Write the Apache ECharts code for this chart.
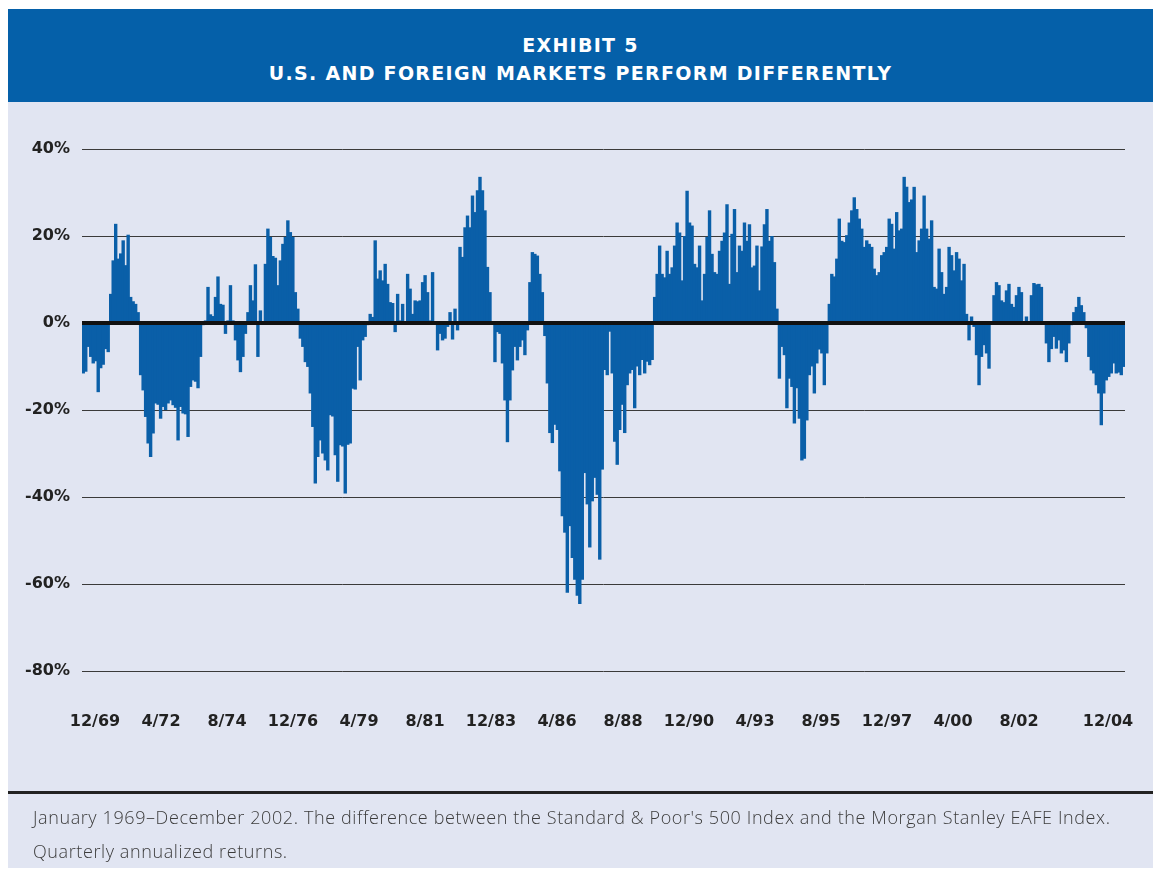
<!DOCTYPE html>
<html>
<head>
<meta charset="utf-8">
<script src="https://cdn.jsdelivr.net/npm/echarts@6/dist/echarts.min.js"></script>
<style>
  html, body { margin: 0; padding: 0; background: #ffffff; }
  body { width: 1153px; height: 871px; position: relative; overflow: hidden; }
  #panel { position: absolute; left: 8px; top: 9px; width: 1145px; height: 859px; background: #e1e5f2; }
  #header { position: absolute; left: 8px; top: 9px; width: 1145px; height: 93px; background: #0560a9; color: #ffffff;
            font-family: "DejaVu Sans", sans-serif; font-weight: bold; font-size: 19px; letter-spacing: 1.3px; text-align: center; }
  #header .l1 { position: absolute; left: 0; right: 0; top: 24px; line-height: 24px; }
  #header .l2 { position: absolute; left: 0; right: 0; top: 52px; line-height: 24px; }
  #chart { position: absolute; left: 0; top: 0; width: 1153px; height: 871px; }
  #sep { position: absolute; left: 8px; top: 791px; width: 1145px; height: 3px; background: #222222; }
  #caption { position: absolute; left: 33px; top: 800px; color: #3c3c3c; font-family: "Open Sans", sans-serif; font-weight: 300;
             font-size: 18px; letter-spacing: 0.6px; line-height: 34px; white-space: nowrap; }
</style>
</head>
<body>
<div id="panel"></div>
<div id="header"><div class="l1">EXHIBIT 5</div><div class="l2">U.S. AND FOREIGN MARKETS PERFORM DIFFERENTLY</div></div>
<div id="chart"></div>
<div id="sep"></div>
<div id="caption">January 1969–December 2002. The difference between the Standard &amp; Poor's 500 Index and the Morgan Stanley EAFE Index.<br>Quarterly annualized returns.</div>
<script>
// S&P 500 minus MSCI EAFE, quarterly annualized return difference (%), monthly bars
var diff1970s = [-11.6, -11.2, -5.5, -7.8, -9.3, -8.8, -15.9, -10.4, -9.6, -6.0, -6.7,
  6.7, 14.4, 22.8, 14.8, 16.0, 19.0, 13.3, 20.3, 6.0, 5.0, 4.4, 2.5,
  -12.0, -15.5, -21.6, -27.7, -30.8, -25.4, -18.5, -18.8, -22.0, -19.3, -20.0, -18.5, -17.8, -18.9, -19.5, -27.0, -19.3, -20.8, -21.0, -26.2, -14.7, -13.2, -13.5, -15.0, -7.8, -0.5,
  0.6, 8.3, 2.0, 1.6, 6.0, 10.7, 4.4, 4.2, -2.5, 0.6, 8.7, 0.6, -4.0, -8.6, -11.3, -7.8, -2.5, 2.5, 8.7, 5.2, 13.5, -7.8, 2.9, 0.3,
  13.6, 21.7, 19.8, 15.4, 15.0, 8.7, 14.4, 18.2, 19.8, 23.6, 20.9, 19.8, 7.1, 3.3,
  -3.6, -5.5, -9.0, -10.1, -16.2, -23.9, -36.9, -30.8, -27.0, -30.0, -31.6];
var diffLate70sEarly80s = [-33.9, -21.2, -21.5, -30.4, -36.5, -28.1, -28.4, -39.2, -28.0, -27.7, -15.1, -15.3, -5.5, -13.2, -4.0, -3.2, -0.5,
  2.1, 1.4, 19.0, 10.2, 12.1, 9.8, 13.6, 9.0, 4.8, 4.6, -2.1, 6.7, 0.6, 4.4, 0.2, 11.3, 7.9, 2.1, 5.2, 5.0, 5.2, 9.4, 11.0, 7.1, 0.6, 11.7, 0.2,
  -6.3, -2.5, -4.0, -3.6, -0.9, 2.5, -3.8, 3.3, -1.7,
  17.5, 15.2, 22.0, 24.7, 22.0, 29.3, 25.5, 30.5, 33.6, 30.5, 25.9, 12.9, 7.1, 0.3,
  -9.0, -2.1, -2.5, -9.3, -17.8, -27.4, -17.8, -10.9, -5.5, -8.6, -5.5, -4.0, -7.4, -1.7,
  9.4, 16.3, 15.9, 15.5];
var diffMid80s = [11.3, 7.1, -3.0, -13.9, -25.3, -27.6, -23.4, -24.6, -34.1, -44.4,
  -48.2, -62.0, -46.7, -54.0, -59.0, -62.7, -64.6, -59.0, -34.5, -41.7,
  -51.6, -41.0, -35.6, -39.5, -54.4, -33.7, -10.8, -12.0, -2.0, -11.6,
  -27.3, -32.6, -24.6, -18.8, -25.3, -14.3, -11.6, -10.8, -19.6, -10.0,
  -12.0, -8.5, -11.6, -8.9, -9.7, -8.5,
  6.0, 11.3, 17.8, 11.3, 10.5, 16.6, 11.3, 12.8, 17.8, 23.1,
  20.8, 9.8, 20.0, 30.4, 23.1, 22.4, 13.6, 12.8];
var diffEarly90s = [17.8, 5.2, 11.3, 19.8, 25.9, 15.9, 11.7, 11.3, 16.6, 18.9,
  20.8, 27.3, 9.0, 20.5, 26.2, 11.7, 17.8, 16.6, 23.1, 18.9,
  22.7, 12.8, 13.2, 17.8, 7.5, 17.6, 22.7, 26.2, 18.9, 20.0,
  14.0, 3.3,
  -12.8, -5.5, -7.4, -19.6, -12.8, -14.7, -23.1, -15.0, -22.0, -31.6,
  -31.2, -22.4, -12.0, -10.0, -16.2, -9.3, -6.1, -7.0, -14.3, -7.0,
  4.4, 11.3, 10.7, 14.8];
var diffLate90s2000s = [24.0, 18.9, 18.6, 20.2, 23.1, 25.9, 28.9, 26.2, 24.0, 21.7,
  17.5, 19.0, 18.2, 17.5, 12.5, 11.0, 11.7, 15.6, 16.3, 17.5,
  24.0, 22.8, 17.1, 25.5, 21.3, 21.7, 33.6, 31.3, 27.8, 28.4,
  31.3, 16.3, 19.0, 21.7, 29.3, 21.7, 19.4, 23.6, 8.3, 7.9,
  17.1, 11.7, 6.7, 8.3, 17.5, 15.6, 12.1, 16.3, 14.8, 9.8,
  13.6, 2.1, -4.0, 1.5, -0.9, -7.4, -14.3, -7.8, -5.1, -7.0,
  -10.5, 0.2, 6.4, 9.4, 8.7, 5.2, 4.8, 7.5, 9.0, 4.4,
  3.7, 6.4, 8.3, 7.1, 0.3, 1.5, -0.3, 6.4, 9.2, 8.9,
  9.0, 8.3, 0.3, -4.7, -9.0, -6.0, -3.2, -5.9, -4.0, -7.0,
  -6.3, -9.0, -4.7, -0.5, 2.5, 3.7, 6.0, 4.1, 2.5, -1.2,
  -7.8, -10.9, -11.6, -14.3, -16.2, -23.5, -16.2, -13.2, -12.4, -11.6,
  -9.3, -11.6, -11.4, -12.0, -10.1];
// the reference sets its first 15 date labels evenly and the last one (12/04) apart at the far right
var tickLabels = ['12/69', '4/72', '8/74', '12/76', '4/79', '8/81', '12/83', '4/86', '8/88', '12/90', '4/93', '8/95', '12/97', '4/00', '8/02'];
var lastTickLabel = ['12/04'];
var yMin = -80, yMax = 40, yStep = 20;

var values = [].concat(diff1970s, diffLate70sEarly80s, diffMid80s, diffEarly90s, diffLate90s2000s);
var categories = values.map(function (v, i) { return String(i); });

var chart = echarts.init(document.getElementById('chart'), null, { renderer: 'canvas' });
var axisFont = { fontFamily: 'DejaVu Sans', fontWeight: 'bold', fontSize: 16, color: '#222222' };
var hiddenAxis = { axisLine: { show: false }, axisTick: { show: false }, splitLine: { show: false } };
chart.setOption({
  backgroundColor: 'transparent',
  animation: false,
  grid: [
    { left: 82, right: 28, top: 149, bottom: 200 },
    { left: 95, right: 134, top: 149, bottom: 200 },
    { left: 1088, right: 25, top: 149, bottom: 200 }
  ],
  xAxis: [
    Object.assign({ type: 'category', gridIndex: 0, data: categories, boundaryGap: true, axisLabel: { show: false } }, hiddenAxis),
    Object.assign({ type: 'category', gridIndex: 1, data: tickLabels, boundaryGap: false,
      axisLabel: Object.assign({ interval: 0, margin: 43 }, axisFont) }, hiddenAxis),
    Object.assign({ type: 'category', gridIndex: 2, data: lastTickLabel, boundaryGap: true,
      axisLabel: Object.assign({ interval: 0, margin: 43 }, axisFont) }, hiddenAxis)
  ],
  yAxis: [
    { type: 'value', gridIndex: 0, min: yMin, max: yMax, interval: yStep,
      axisLine: { show: false }, axisTick: { show: false },
      axisLabel: Object.assign({ formatter: '{value}%', margin: 12 }, axisFont),
      splitLine: { show: true, lineStyle: { color: '#3a3a3a', width: 1 } } },
    { type: 'value', gridIndex: 1, min: yMin, max: yMax, show: false },
    { type: 'value', gridIndex: 2, min: yMin, max: yMax, show: false }
  ],
  series: [{
    type: 'bar',
    xAxisIndex: 0, yAxisIndex: 0,
    data: values,
    barWidth: 3.4,
    itemStyle: { color: '#0a5fa8' },
    markLine: {
      silent: true, symbol: 'none', label: { show: false },
      lineStyle: { color: '#111111', width: 4, type: 'solid' },
      data: [{ yAxis: 0 }]
    }
  }]
});
</script>
</body>
</html>
